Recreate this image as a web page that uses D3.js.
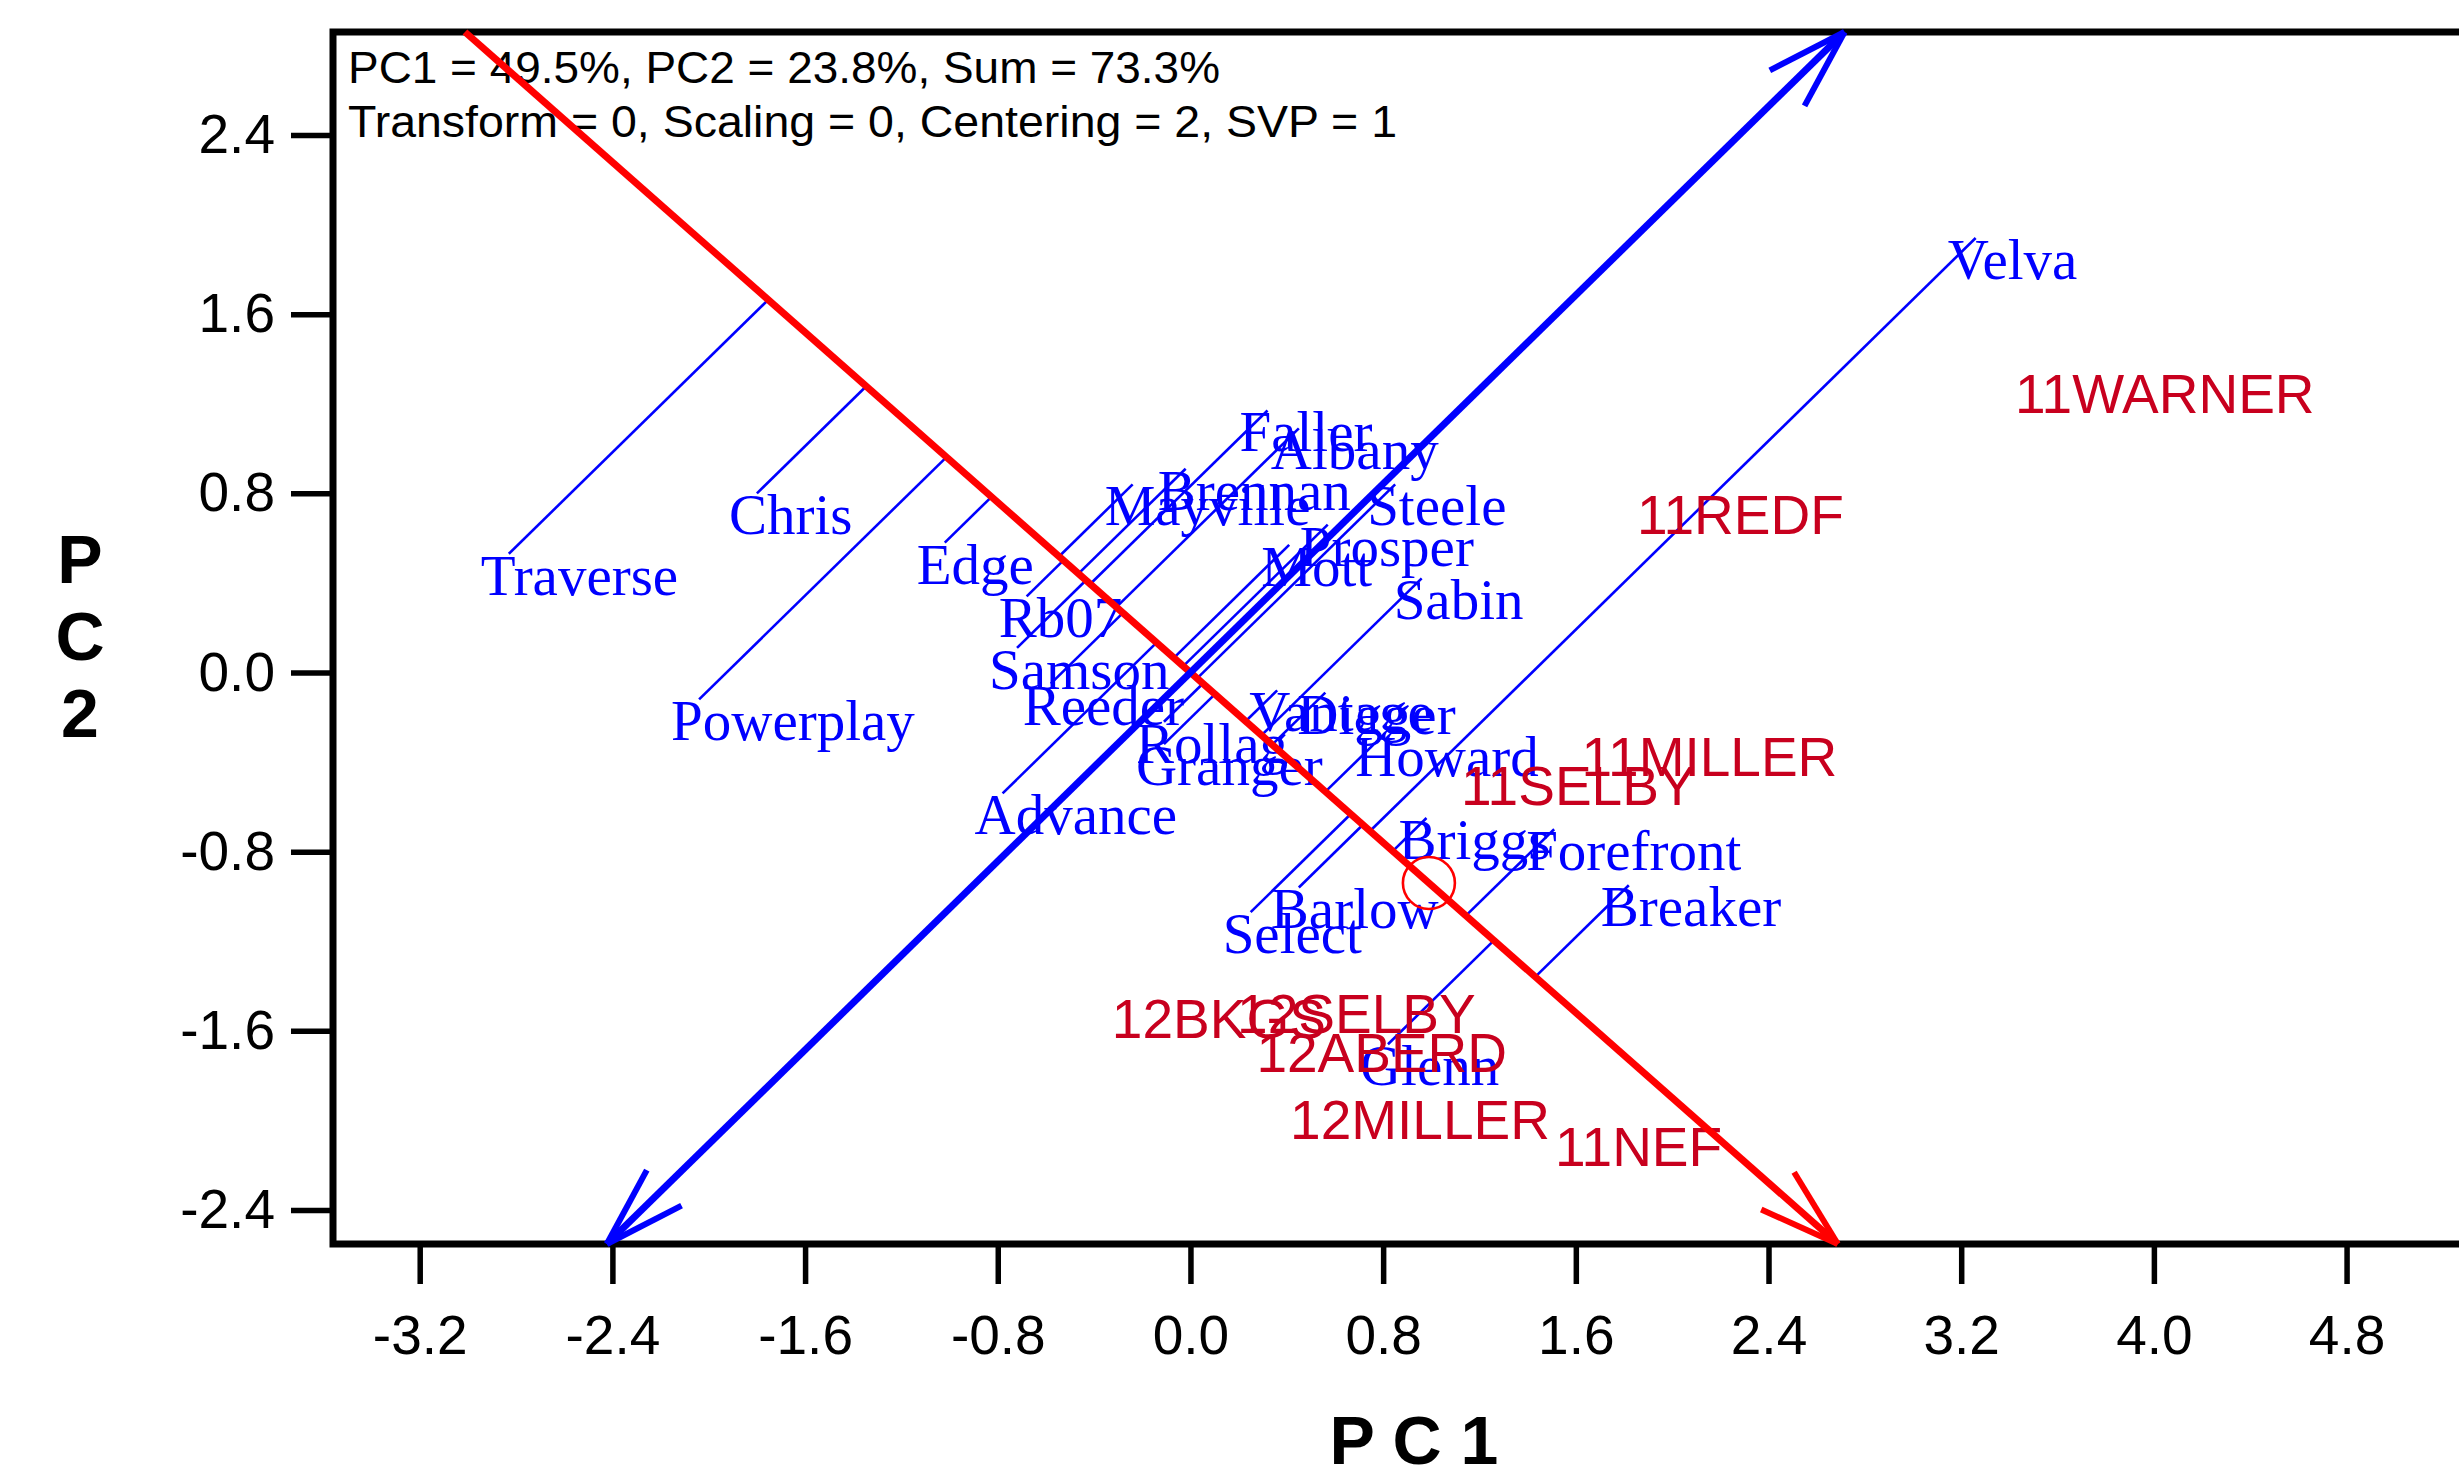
<!DOCTYPE html>
<html lang="en">
  <head>
    <meta charset="UTF-8" />
    <title>GGE biplot</title>
    <style>
      body { margin: 0; background: #fff; }
    </style>
  </head>
  <body>
    <div id="chart"></div>
    <script src="https://d3js.org/d3.v7.min.js"></script>
    <script>
      // genotype scores
      var genoNames = ["Traverse", "Chris", "Powerplay", "Edge", "Rb07", "Samson", "Reeder", "Advance",
        "Faller", "Albany", "Brennan", "Mayville", "Steele", "Prosper", "Mott", "Sabin",
        "Vantage", "Digger", "Rollag", "Granger", "Howard", "Briggs", "Forefront", "Breaker",
        "Barlow", "Select", "Glenn", "Velva"];
      var genoPC1 = [-2.83, -1.80, -2.04, -1.02, -0.68, -0.72, -0.58, -0.78,
        0.32, 0.45, -0.02, -0.24, 0.85, 0.57, 0.41, 0.96,
        0.36, 0.56, -0.11, -0.11, 0.80, 0.98, 1.51, 1.82,
        0.45, 0.25, 0.82, 3.26];
      var genoPC2 = [0.53, 0.80, -0.12, 0.58, 0.34, 0.11, -0.05, -0.54,
        1.17, 1.09, 0.91, 0.84, 0.84, 0.66, 0.57, 0.42,
        -0.08, -0.09, -0.22, -0.32, -0.28, -0.65, -0.70, -0.95,
        -0.96, -1.07, -1.66, 1.94];

      // environment scores
      var envNames = ["11WARNER", "11REDF", "11MILLER", "11SELBY", "12BKGS", "12SELBY", "12ABERD", "12MILLER", "11NEF"];
      var envPC1 = [3.54, 1.97, 1.74, 1.24, -0.21, 0.31, 0.39, 0.53, 1.63];
      var envPC2 = [1.35, 0.81, -0.27, -0.40, -1.44, -1.42, -1.59, -1.89, -2.01];

      // average environment (small circle)
      var avgEnv = [0.99, -0.94];

      var xTicks = [-3.2, -2.4, -1.6, -0.8, 0.0, 0.8, 1.6, 2.4, 3.2, 4.0, 4.8];
      var yTicks = [-2.4, -1.6, -0.8, 0.0, 0.8, 1.6, 2.4];
      var infoLines = ["PC1 = 49.5%, PC2 = 23.8%, Sum = 73.3%",
        "Transform = 0, Scaling = 0, Centering = 2, SVP = 1"];

      var W = 2459, H = 1472;
      var pL = 333, pT = 32, pB = 1244, pR = 2467;

      var svg = d3.select("#chart").append("svg")
        .attr("width", W).attr("height", H)
        .style("display", "block");

      var x = d3.scaleLinear().domain([-3.56, 5.3]).range([pL, pR]);
      var y = d3.scaleLinear().domain([-2.552, 2.86]).range([pB, pT]);

      // axes
      var fmt = function (d) { return d.toFixed(1); };
      var yAxis = svg.append("g")
        .attr("transform", "translate(" + pL + ",0)")
        .call(d3.axisLeft(y).tickValues(yTicks).tickSize(42).tickPadding(16).tickFormat(fmt));
      var xAxis = svg.append("g")
        .attr("transform", "translate(0," + pB + ")")
        .call(d3.axisBottom(x).tickValues(xTicks).tickSize(40).tickPadding(31).tickFormat(fmt));
      [xAxis, yAxis].forEach(function (a) {
        a.select(".domain").remove();
        a.selectAll("line").attr("stroke", "#000").attr("stroke-width", 5.5);
        a.selectAll("text")
          .attr("fill", "#000")
          .style("font-family", "'Liberation Sans', Arial, sans-serif")
          .style("font-size", "55px");
      });

      // frame
      svg.append("rect")
        .attr("x", pL).attr("y", pT)
        .attr("width", pR - pL).attr("height", pB - pT)
        .attr("fill", "none").attr("stroke", "#000").attr("stroke-width", 7);

      // axis titles
      svg.append("text")
        .attr("x", 1414).attr("y", 1464)
        .attr("text-anchor", "middle")
        .style("font-family", "'Liberation Sans', Arial, sans-serif")
        .style("font-size", "68px").style("font-weight", "bold")
        .text("P C 1");
      ["P", "C", "2"].forEach(function (c, i) {
        svg.append("text")
          .attr("x", 80).attr("y", 583 + i * 77)
          .attr("text-anchor", "middle")
          .style("font-family", "'Liberation Sans', Arial, sans-serif")
          .style("font-size", "68px").style("font-weight", "bold")
          .text(c);
      });

      // info lines
      var infoWidths = [872, 1049];
      infoLines.forEach(function (t, i) {
        svg.append("text")
          .attr("x", 348).attr("y", 83 + i * 54)
          .attr("textLength", infoWidths[i])
          .attr("lengthAdjust", "spacingAndGlyphs")
          .style("font-family", "'Liberation Sans', Arial, sans-serif")
          .style("font-size", "44px")
          .text(t);
      });

      // unit vectors for the average-environment axis and its perpendicular
      var len = Math.hypot(avgEnv[0], avgEnv[1]);
      var u = [avgEnv[0] / len, avgEnv[1] / len];
      var v = [-u[1], u[0]];
      var yMin = y.domain()[0], yMax = y.domain()[1];

      var geno = genoNames.map(function (n, i) {
        return { name: n, pc1: genoPC1[i], pc2: genoPC2[i] };
      });
      var env = envNames.map(function (n, i) {
        return { name: n, pc1: envPC1[i], pc2: envPC2[i] };
      });

      // projection lines from each genotype to the average-environment axis
      svg.append("g").selectAll("line")
        .data(geno).enter().append("line")
        .attr("x1", function (d) { return x(d.pc1); })
        .attr("y1", function (d) { return y(d.pc2); })
        .attr("x2", function (d) { var s = d.pc1 * u[0] + d.pc2 * u[1]; return x(s * u[0]); })
        .attr("y2", function (d) { var s = d.pc1 * u[0] + d.pc2 * u[1]; return y(s * u[1]); })
        .attr("stroke", "#0000ff").attr("stroke-width", 2.6);

      // genotype labels
      svg.append("g").selectAll("text")
        .data(geno).enter().append("text")
        .attr("x", function (d) { return x(d.pc1) - 28; })
        .attr("y", function (d) { return y(d.pc2) + 41; })
        .attr("fill", "#0000ff")
        .style("font-family", "'Liberation Serif', 'Times New Roman', serif")
        .style("font-size", "57px")
        .text(function (d) { return d.name; });

      // environment labels
      svg.append("g").selectAll("text")
        .data(env).enter().append("text")
        .attr("x", function (d) { return x(d.pc1) - 28; })
        .attr("y", function (d) { return y(d.pc2) + 43; })
        .attr("fill", "#c8001e")
        .style("font-family", "'Liberation Sans', Arial, sans-serif")
        .style("font-size", "55px")
        .text(function (d) { return d.name; });

      // ends of a line through the origin along dir, clipped at the top and bottom
      function ends(dir) {
        var t1 = yMax / dir[1], t2 = yMin / dir[1];
        return [[x(t1 * dir[0]), y(t1 * dir[1])], [x(t2 * dir[0]), y(t2 * dir[1])]];
      }

      function arrowHead(g, tip, from, color) {
        var ang = Math.atan2(from[1] - tip[1], from[0] - tip[0]);
        [-0.3, 0.3].forEach(function (da) {
          g.append("line")
            .attr("x1", tip[0]).attr("y1", tip[1])
            .attr("x2", tip[0] + 84 * Math.cos(ang + da))
            .attr("y2", tip[1] + 84 * Math.sin(ang + da))
            .attr("stroke", color).attr("stroke-width", 6);
        });
      }

      var axes = svg.append("g");
      // red: average environment axis, arrow toward the average environment
      var r = ends(u);
      axes.append("line")
        .attr("x1", r[0][0]).attr("y1", r[0][1]).attr("x2", r[1][0]).attr("y2", r[1][1])
        .attr("stroke", "#ff0000").attr("stroke-width", 7);
      var rTip = u[1] < 0 ? r[1] : r[0], rFrom = u[1] < 0 ? r[0] : r[1];
      arrowHead(axes, rTip, rFrom, "#ff0000");

      // blue: perpendicular axis, arrows at both ends
      var b = ends(v);
      axes.append("line")
        .attr("x1", b[0][0]).attr("y1", b[0][1]).attr("x2", b[1][0]).attr("y2", b[1][1])
        .attr("stroke", "#0000ff").attr("stroke-width", 7);
      arrowHead(axes, b[0], b[1], "#0000ff");
      arrowHead(axes, b[1], b[0], "#0000ff");

      // average environment marker
      axes.append("circle")
        .attr("cx", x(avgEnv[0])).attr("cy", y(avgEnv[1]))
        .attr("r", 26)
        .attr("fill", "none").attr("stroke", "#ff0000").attr("stroke-width", 2.6);
    </script>
  </body>
</html>
